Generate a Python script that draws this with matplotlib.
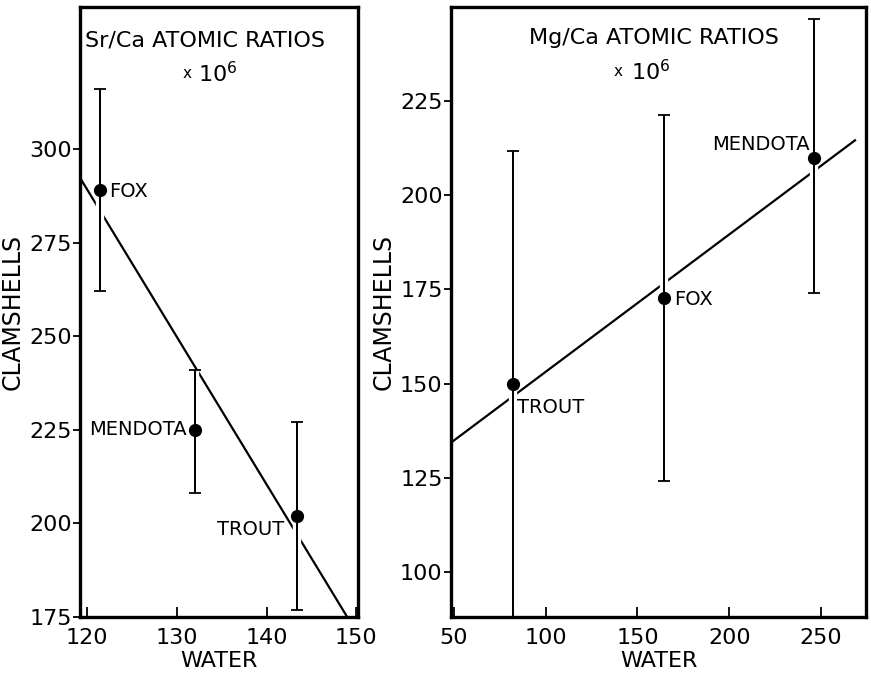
import matplotlib
matplotlib.use("Agg")
import matplotlib.pyplot as plt
import matplotlib.patheffects as pe

plt.rcParams['font.family'] = ['DejaVu Sans']

# ---- Sr/Ca panel data ----
sr_lakes = ["FOX", "MENDOTA", "TROUT"]
sr_water = [121.4, 132.0, 143.4]
sr_shell = [289, 225, 202]
sr_err_hi = [316, 241, 227]
sr_err_lo = [262, 208, 177]
sr_fit_x = [119.2, 149.0]
sr_fit_y = [292.4, 175]
sr_xticks = [120, 130, 140, 150]
sr_yticks = [175, 200, 225, 250, 275, 300]

# ---- Mg/Ca panel data ----
mg_lakes = ["TROUT", "FOX", "MENDOTA"]
mg_water = [82, 164.7, 246.2]
mg_shell = [150, 172.6, 209.8]
mg_err_hi = [211.7, 221.3, 246.8]
mg_err_lo = [88, 124, 174]
mg_fit_x = [48.5, 268.5]
mg_fit_y = [134.3, 214.6]
mg_xticks = [50, 100, 150, 200, 250]
mg_yticks = [100, 125, 150, 175, 200, 225]

fig = plt.figure(figsize=(8.71, 6.76), dpi=100)
axL = fig.add_axes([0.0918, 0.0873, 0.3192, 0.9023])
axR = fig.add_axes([0.5178, 0.0873, 0.4765, 0.9023])

def draw(ax, xs, ys, hi, lo, fx, fy):
    ax.plot(fx, fy, color='black', lw=1.6, zorder=1)
    yerr = [[y - l for y, l in zip(ys, lo)], [h - y for y, h in zip(ys, hi)]]
    cont = ax.errorbar(xs, ys, yerr=yerr, fmt='o', color='black', ms=8.5,
                       capsize=4, elinewidth=1.3, capthick=1.3, zorder=2.2)
    for lc in cont[2]:
        lc.set_path_effects([pe.withStroke(linewidth=6, foreground='white'), pe.Normal()])

draw(axL, sr_water, sr_shell, sr_err_hi, sr_err_lo, sr_fit_x, sr_fit_y)
draw(axR, mg_water, mg_shell, mg_err_hi, mg_err_lo, mg_fit_x, mg_fit_y)

axL.set_xlim(119.2, 150.2)
axL.set_ylim(175, 338)
axR.set_xlim(48.5, 274.5)
axR.set_ylim(88, 250)

for ax, xt, yt in [(axL, sr_xticks, sr_yticks), (axR, mg_xticks, mg_yticks)]:
    ax.set_xticks(xt)
    ax.set_yticks(yt)
    ax.tick_params(axis='x', direction='in', length=7, width=1.3, labelsize=16, pad=8)
    ax.tick_params(axis='y', direction='out', length=5, width=1.3, labelsize=16, pad=1)
    for s in ax.spines.values():
        s.set_linewidth(2.4)
    ax.set_xlabel("WATER", fontsize=16, labelpad=2)
    ax.set_ylabel("CLAMSHELLS", fontsize=17, labelpad=3)

lab = 14
# point labels, left panel
axL.annotate(sr_lakes[0], (sr_water[0], sr_shell[0]), xytext=(7, -1), textcoords='offset points',
             ha='left', va='center', fontsize=lab)
axL.annotate(sr_lakes[1], (sr_water[1], sr_shell[1]), xytext=(-6, 0), textcoords='offset points',
             ha='right', va='center', fontsize=lab)
axL.annotate(sr_lakes[2], (sr_water[2], sr_shell[2]), xytext=(-9, -10), textcoords='offset points',
             ha='right', va='center', fontsize=lab)
# point labels, right panel
axR.annotate(mg_lakes[0], (mg_water[0], mg_shell[0]), xytext=(3, -17), textcoords='offset points',
             ha='left', va='center', fontsize=lab)
axR.annotate(mg_lakes[1], (mg_water[1], mg_shell[1]), xytext=(7, -1), textcoords='offset points',
             ha='left', va='center', fontsize=lab)
axR.annotate(mg_lakes[2], (mg_water[2], mg_shell[2]), xytext=(-3, 10), textcoords='offset points',
             ha='right', va='center', fontsize=lab)

axL.text(0.45, 0.945, "Sr/Ca ATOMIC RATIOS", transform=axL.transAxes, ha='center', va='center', fontsize=16)
axL.text(0.385, 0.891, r"x", transform=axL.transAxes, ha='center', va='center', fontsize=11)
axL.text(0.425, 0.891, r"10$^{6}$", transform=axL.transAxes, ha='left', va='center', fontsize=16)
axR.text(0.49, 0.95, "Mg/Ca ATOMIC RATIOS", transform=axR.transAxes, ha='center', va='center', fontsize=16)
axR.text(0.402, 0.894, r"x", transform=axR.transAxes, ha='center', va='center', fontsize=11)
axR.text(0.433, 0.894, r"10$^{6}$", transform=axR.transAxes, ha='left', va='center', fontsize=16)

fig.savefig("out.png", dpi=100)
